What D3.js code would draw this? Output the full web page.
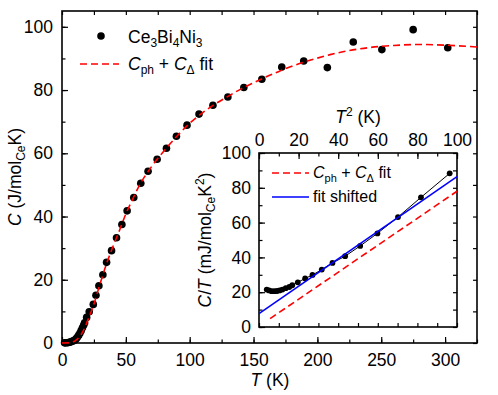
<!DOCTYPE html>
<html><head><meta charset="utf-8">
<script src="https://cdn.jsdelivr.net/npm/d3@7/dist/d3.min.js"></script>
<style>
body{margin:0;background:#fff;}
text{font-family:"Liberation Sans",Arial,sans-serif;fill:#000;}
</style></head>
<body>
<svg id="c" width="498" height="395"></svg>
<script>
// ---- Main data: specific heat C (J/mol_Ce K) vs T (K)
const dataT = [2,3,4,5,6,7,8,9,10,11,12,13,14,15,16,17,17.7,19.3,21.3,24.5,26.6,28.9,32.0,34.9,38.8,42.7,46.9,51.0,56.2,61.7,67.4,74.5,81.8,89.6,97.9,107.3,118.2,129.9,142.4,156.5,172.1,189.3,207.8,228.1,250.5,275.0,302.1];
const dataC = [0.04,0.06,0.10,0.17,0.26,0.38,0.53,0.73,0.95,1.3,1.8,2.4,3.1,3.9,4.8,5.7,6.4,8.1,9.9,12.2,15.1,18.1,21.6,25.5,29.2,33.3,37.5,41.8,46.0,50.5,54.3,58.1,61.6,65.4,68.9,72.4,75.2,77.8,80.8,83.4,87.3,89.2,87.1,95.2,92.8,99.1,93.4];
// fit curve C_ph + C_Delta
const fitT = [0,5,8,10,12,15,18,20,22,25,30,35,40,45,50,55,60,70,80,90,100,110,120,130,140,150,160,170,180,190,200,210,220,240,260,280,300,325];
const fitC = [0,0.05,0.3,0.6,1.2,2.7,5.0,7.0,9.0,12.3,19.0,25.2,30.6,35.6,40.8,45.2,49.4,55.7,60.8,65.4,69.5,72.8,75.6,78.0,80.3,82.3,84.2,85.9,87.5,88.9,90.1,91.2,92.1,93.4,94.1,94.4,94.2,93.6];
const xTicks = [0,50,100,150,200,250,300];
const yTicks = [0,20,40,60,80,100];

// ---- Inset data: C/T (mJ/mol_Ce K^2) vs T^2
const insT2 = [3.9,5.1,6.4,7.7,9.1,10.4,11.8,13.5,15.3,16.8,19.6,23.3,27.0,31.7,37.1,43.5,51.1,59.8,70.2,81.8,96.3];
const insCT = [21.5,21.0,20.6,20.6,20.7,21.0,21.5,22.3,23.0,24.0,25.7,27.9,29.9,33.0,36.8,40.7,46.6,53.8,63.2,74.5,88.3];
const insFitT2 = [5.6,100];
const insFitCT = [4.8,78.0];
const insShiftT2 = [0,100];
const insShiftCT = [7.7,86.4];
const insXTicks = [0,20,40,60,80,100];
const insYTicks = [0,20,40,60,80,100];

const svg = d3.select("#c");
const FS = 17.5;

// main plot area
const L=62,R=477,T=11,B=343;
const x = d3.scaleLinear().domain([0,325]).range([L,R]);
const y = d3.scaleLinear().domain([0,105]).range([B,T]);

function styleAxis(g){
  g.select(".domain").remove();
  g.selectAll("line").attr("stroke","#000").attr("stroke-width",1.2);
  g.selectAll("text").attr("font-size",FS).attr("font-family","Liberation Sans, Arial, sans-serif");
}
function minorVals(dom, step){ const a=[]; for(let v=dom[0]; v<=dom[1]+1e-9; v+=step) a.push(+v.toFixed(6)); return a; }

// main axes
svg.append("g").attr("transform",`translate(0,${B})`)
  .call(d3.axisBottom(x).tickValues(xTicks).tickSize(-6).tickPadding(11).tickFormat(d3.format("d"))).call(styleAxis);
svg.append("g").attr("transform",`translate(0,${B})`)
  .call(d3.axisBottom(x).tickValues(minorVals([0,325],25)).tickSize(-3.5).tickFormat("")).call(styleAxis);
svg.append("g").attr("transform",`translate(0,${T})`)
  .call(d3.axisTop(x).tickValues(minorVals([0,325],25)).tickSize(-4).tickFormat("")).call(styleAxis);
svg.append("g").attr("transform",`translate(${L},0)`)
  .call(d3.axisLeft(y).tickValues(yTicks).tickSize(-6).tickPadding(9).tickFormat(d3.format("d"))).call(styleAxis);
svg.append("g").attr("transform",`translate(${L},0)`)
  .call(d3.axisLeft(y).tickValues(minorVals([0,105],10)).tickSize(-3.5).tickFormat("")).call(styleAxis);
svg.append("g").attr("transform",`translate(${R},0)`)
  .call(d3.axisRight(y).tickValues(minorVals([0,105],10)).tickSize(-4).tickFormat("")).call(styleAxis);
svg.append("rect").attr("x",L).attr("y",T).attr("width",R-L).attr("height",B-T)
  .attr("fill","none").attr("stroke","#000").attr("stroke-width",1.6);

// main data points
svg.append("g").selectAll("circle").data(dataT.map((t,i)=>[t,dataC[i]])).join("circle")
  .attr("cx",d=>x(d[0])).attr("cy",d=>y(d[1])).attr("r",3.8).attr("fill","#000");
// main fit
svg.append("path").datum(fitT.map((t,i)=>[t,fitC[i]]))
  .attr("d",d3.line().x(d=>x(d[0])).y(d=>y(d[1])).curve(d3.curveMonotoneX))
  .attr("fill","none").attr("stroke","#ff0000").attr("stroke-width",1.6).attr("stroke-dasharray","7,4");

// main axis titles
const yt = svg.append("text").attr("transform","translate(21,177) rotate(-90)").attr("text-anchor","middle").attr("font-size",FS);
yt.append("tspan").attr("font-style","italic").text("C");
yt.append("tspan").text(" (J/mol");
yt.append("tspan").attr("font-size",12).attr("dy",4).text("Ce");
yt.append("tspan").attr("dy",-4).text("K)");
const xt = svg.append("text").attr("x",270).attr("y",386).attr("text-anchor","middle").attr("font-size",FS);
xt.append("tspan").attr("font-style","italic").text("T");
xt.append("tspan").text(" (K)");

// main legend
svg.append("circle").attr("cx",101).attr("cy",36).attr("r",3.8).attr("fill","#000");
const lg1 = svg.append("text").attr("x",128).attr("y",43).attr("font-size",FS);
lg1.append("tspan").text("Ce");
lg1.append("tspan").attr("font-size",12).attr("dy",4).text("3");
lg1.append("tspan").attr("dy",-4).text("Bi");
lg1.append("tspan").attr("font-size",12).attr("dy",4).text("4");
lg1.append("tspan").attr("dy",-4).text("Ni");
lg1.append("tspan").attr("font-size",12).attr("dy",4).text("3");
svg.append("line").attr("x1",80).attr("x2",119).attr("y1",64).attr("y2",64)
  .attr("stroke","#ff0000").attr("stroke-width",1.6).attr("stroke-dasharray","7,4");
const lg2 = svg.append("text").attr("x",128).attr("y",70).attr("font-size",FS);
lg2.append("tspan").attr("font-style","italic").text("C");
lg2.append("tspan").attr("font-size",12).attr("dy",4).text("ph");
lg2.append("tspan").attr("dy",-4).text(" + ");
lg2.append("tspan").attr("font-style","italic").text("C");
lg2.append("tspan").attr("font-size",12).attr("dy",4).text("Δ");
lg2.append("tspan").attr("dy",-4).text(" fit");

// ---- inset
const iL=259,iR=457,iT=153,iB=327;
const ix = d3.scaleLinear().domain([0,100]).range([iL,iR]);
const iy = d3.scaleLinear().domain([0,100]).range([iB,iT]);
svg.append("rect").attr("x",iL).attr("y",iT).attr("width",iR-iL).attr("height",iB-iT).attr("fill","#fff");
svg.append("g").attr("transform",`translate(0,${iT})`)
  .call(d3.axisTop(ix).tickValues(insXTicks).tickSize(-6).tickPadding(7).tickFormat(d3.format("d"))).call(styleAxis);
svg.append("g").attr("transform",`translate(0,${iT})`)
  .call(d3.axisTop(ix).tickValues(minorVals([0,100],10)).tickSize(-3.5).tickFormat("")).call(styleAxis);
svg.append("g").attr("transform",`translate(0,${iB})`)
  .call(d3.axisBottom(ix).tickValues(minorVals([0,100],10)).tickSize(-4).tickFormat("")).call(styleAxis);
svg.append("g").attr("transform",`translate(${iL},0)`)
  .call(d3.axisLeft(iy).tickValues(insYTicks).tickSize(-6).tickPadding(8).tickFormat(d3.format("d"))).call(styleAxis);
svg.append("g").attr("transform",`translate(${iL},0)`)
  .call(d3.axisLeft(iy).tickValues(minorVals([0,100],10)).tickSize(-3.5).tickFormat("")).call(styleAxis);
svg.append("g").attr("transform",`translate(${iR},0)`)
  .call(d3.axisRight(iy).tickValues(minorVals([0,100],10)).tickSize(-4).tickFormat("")).call(styleAxis);
svg.append("rect").attr("x",iL).attr("y",iT).attr("width",iR-iL).attr("height",iB-iT)
  .attr("fill","none").attr("stroke","#000").attr("stroke-width",1.6);

const ipts = insT2.map((t,i)=>[t,insCT[i]]);
svg.append("path").datum(ipts)
  .attr("d",d3.line().x(d=>ix(d[0])).y(d=>iy(d[1])))
  .attr("fill","none").attr("stroke","#000").attr("stroke-width",1);
svg.append("g").selectAll("circle").data(ipts).join("circle")
  .attr("cx",d=>ix(d[0])).attr("cy",d=>iy(d[1])).attr("r",2.9).attr("fill","#000");
svg.append("path").datum(insFitT2.map((t,i)=>[t,insFitCT[i]]))
  .attr("d",d3.line().x(d=>ix(d[0])).y(d=>iy(d[1])))
  .attr("fill","none").attr("stroke","#ff0000").attr("stroke-width",1.6).attr("stroke-dasharray","7,4");
svg.append("path").datum(insShiftT2.map((t,i)=>[t,insShiftCT[i]]))
  .attr("d",d3.line().x(d=>ix(d[0])).y(d=>iy(d[1])))
  .attr("fill","none").attr("stroke","#0000ff").attr("stroke-width",1.6);

// inset titles
const it = svg.append("text").attr("x",358).attr("y",123).attr("text-anchor","middle").attr("font-size",FS);
it.append("tspan").attr("font-style","italic").text("T");
it.append("tspan").attr("font-size",12).attr("dy",-7).text("2");
it.append("tspan").attr("dy",7).text(" (K)");
const iyt = svg.append("text").attr("transform","translate(211,240) rotate(-90)").attr("text-anchor","middle").attr("font-size",FS);
iyt.append("tspan").attr("font-style","italic").text("C");
iyt.append("tspan").text("/");
iyt.append("tspan").attr("font-style","italic").text("T");
iyt.append("tspan").text(" (mJ/mol");
iyt.append("tspan").attr("font-size",12).attr("dy",4).text("Ce");
iyt.append("tspan").attr("dy",-4).text("K");
iyt.append("tspan").attr("font-size",12).attr("dy",-7).text("2");
iyt.append("tspan").attr("dy",7).text(")");

// inset legend
const ILF = 16;
svg.append("line").attr("x1",272).attr("x2",309).attr("y1",173).attr("y2",173)
  .attr("stroke","#ff0000").attr("stroke-width",1.6).attr("stroke-dasharray","7,4");
const il1 = svg.append("text").attr("x",313).attr("y",178).attr("font-size",ILF);
il1.append("tspan").attr("font-style","italic").text("C");
il1.append("tspan").attr("font-size",11).attr("dy",4).text("ph");
il1.append("tspan").attr("dy",-4).text(" + ");
il1.append("tspan").attr("font-style","italic").text("C");
il1.append("tspan").attr("font-size",11).attr("dy",4).text("Δ");
il1.append("tspan").attr("dy",-4).text(" fit");
svg.append("line").attr("x1",272).attr("x2",309).attr("y1",197).attr("y2",197)
  .attr("stroke","#0000ff").attr("stroke-width",1.6);
svg.append("text").attr("x",313).attr("y",202).attr("font-size",ILF).text("fit shifted");
</script>
</body></html>
